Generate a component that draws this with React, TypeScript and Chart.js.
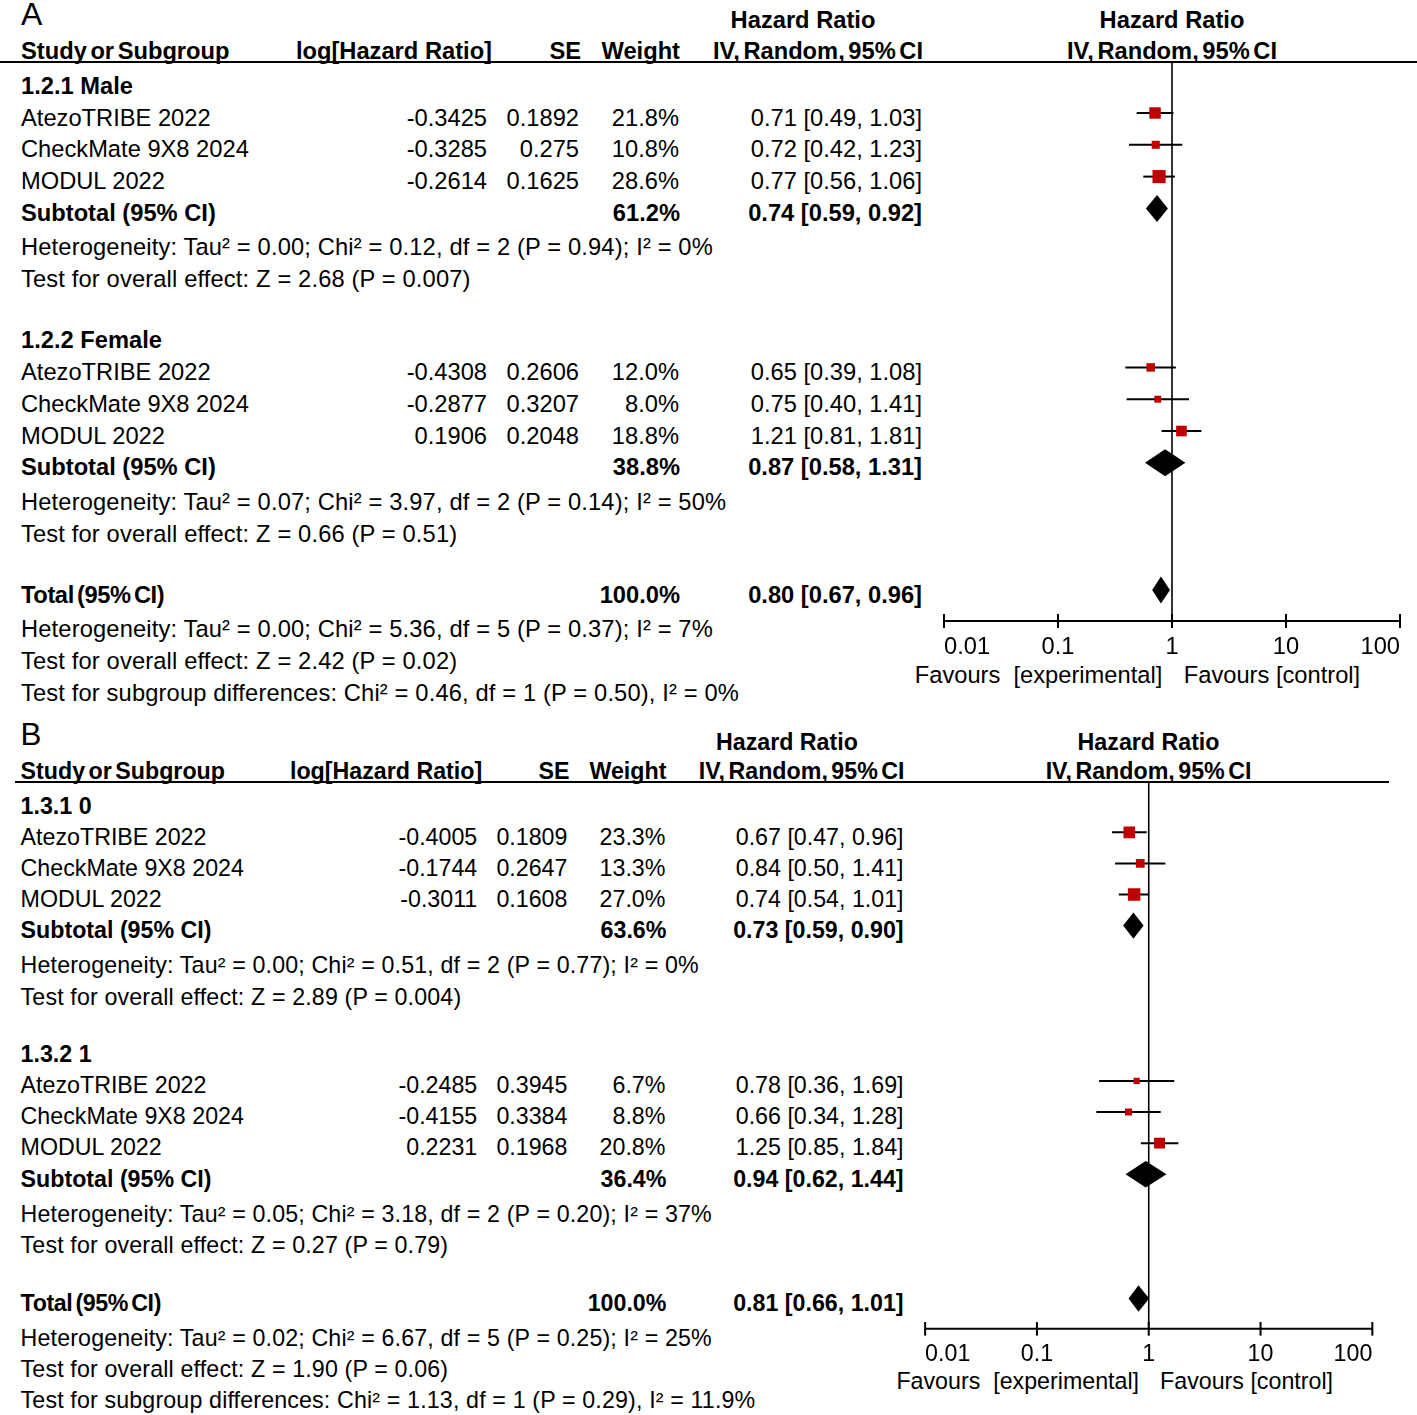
import React, { useEffect, useRef } from "react";
import { Chart, registerables } from "chart.js";

Chart.register(...registerables);

// ---------- shared ----------
const studyNames = ["AtezoTRIBE 2022", "CheckMate 9X8 2024", "MODUL 2022"];
const tickValues = [0.01, 0.1, 1, 10, 100];
const tickLabels = ["0.01", "0.1", "1", "10", "100"];

// ---------- Panel A ----------
const aGroupLabels = ["1.2.1 Male", "1.2.2 Female"];
const aLogHR = [[-0.3425, -0.3285, -0.2614], [-0.4308, -0.2877, 0.1906]];
const aSE = [[0.1892, 0.275, 0.1625], [0.2606, 0.3207, 0.2048]];
const aWeight = [[21.8, 10.8, 28.6], [12.0, 8.0, 18.8]];
const aHR = [[0.71, 0.72, 0.77], [0.65, 0.75, 1.21]];
const aLower = [[0.49, 0.42, 0.56], [0.39, 0.40, 0.81]];
const aUpper = [[1.03, 1.23, 1.06], [1.08, 1.41, 1.81]];
const aSubWeight = [61.2, 38.8];
const aSubHR = [0.74, 0.87];
const aSubLower = [0.59, 0.58];
const aSubUpper = [0.92, 1.31];
const aSubHet = [
  "Heterogeneity: Tau² = 0.00; Chi² = 0.12, df = 2 (P = 0.94); I² = 0%",
  "Heterogeneity: Tau² = 0.07; Chi² = 3.97, df = 2 (P = 0.14); I² = 50%",
];
const aSubTest = [
  "Test for overall effect: Z = 2.68 (P = 0.007)",
  "Test for overall effect: Z = 0.66 (P = 0.51)",
];
const aTotalWeight = 100.0;
const aTotalHR = 0.80;
const aTotalLower = 0.67;
const aTotalUpper = 0.96;
const aTotalNotes = [
  "Heterogeneity: Tau² = 0.00; Chi² = 5.36, df = 5 (P = 0.37); I² = 7%",
  "Test for overall effect: Z = 2.42 (P = 0.02)",
  "Test for subgroup differences: Chi² = 0.46, df = 1 (P = 0.50), I² = 0%",
];

// ---------- Panel B ----------
const bGroupLabels = ["1.3.1 0", "1.3.2 1"];
const bLogHR = [[-0.4005, -0.1744, -0.3011], [-0.2485, -0.4155, 0.2231]];
const bSE = [[0.1809, 0.2647, 0.1608], [0.3945, 0.3384, 0.1968]];
const bWeight = [[23.3, 13.3, 27.0], [6.7, 8.8, 20.8]];
const bHR = [[0.67, 0.84, 0.74], [0.78, 0.66, 1.25]];
const bLower = [[0.47, 0.50, 0.54], [0.36, 0.34, 0.85]];
const bUpper = [[0.96, 1.41, 1.01], [1.69, 1.28, 1.84]];
const bSubWeight = [63.6, 36.4];
const bSubHR = [0.73, 0.94];
const bSubLower = [0.59, 0.62];
const bSubUpper = [0.90, 1.44];
const bSubHet = [
  "Heterogeneity: Tau² = 0.00; Chi² = 0.51, df = 2 (P = 0.77); I² = 0%",
  "Heterogeneity: Tau² = 0.05; Chi² = 3.18, df = 2 (P = 0.20); I² = 37%",
];
const bSubTest = [
  "Test for overall effect: Z = 2.89 (P = 0.004)",
  "Test for overall effect: Z = 0.27 (P = 0.79)",
];
const bTotalWeight = 100.0;
const bTotalHR = 0.81;
const bTotalLower = 0.66;
const bTotalUpper = 1.01;
const bTotalNotes = [
  "Heterogeneity: Tau² = 0.02; Chi² = 6.67, df = 5 (P = 0.25); I² = 25%",
  "Test for overall effect: Z = 1.90 (P = 0.06)",
  "Test for subgroup differences: Chi² = 1.13, df = 1 (P = 0.29), I² = 11.9%",
];

const FONT = "'Liberation Sans', Arial, Helvetica, sans-serif";
const PAGE_W = 1417;

type PanelProps = {
  letter: string;
  groupLabels: string[];
  logHR: number[][];
  se: number[][];
  weight: number[][];
  hr: number[][];
  lower: number[][];
  upper: number[][];
  subWeight: number[];
  subHR: number[];
  subLower: number[];
  subUpper: number[];
  subHet: string[];
  subTest: string[];
  totalWeight: number;
  totalHR: number;
  totalLower: number;
  totalUpper: number;
  totalNotes: string[];
  sx: number;
  sy: number;
  oy: number;
  lineStart: number;
  statOff: number;
};

type TProps = {
  x: number;
  y: number;
  fs: number;
  text: string;
  align?: "left" | "right" | "center";
  bold?: boolean;
  style?: React.CSSProperties;
};

function T({ x, y, fs, text, align = "left", bold = false, style = {} }: TProps) {
  const s: React.CSSProperties = {
    position: "absolute",
    top: y - fs / 2,
    fontSize: fs,
    lineHeight: `${fs}px`,
    whiteSpace: "pre",
    fontWeight: bold ? 700 : 400,
    color: "#000",
    ...style,
  };
  if (align === "left") s.left = x;
  else if (align === "right") s.right = PAGE_W - x;
  else {
    s.left = x;
    s.transform = "translateX(-50%)";
  }
  return <div style={s}>{text}</div>;
}

const fmtW = (w: number) => `${w.toFixed(1)}%`;
const fmtCI = (h: number, l: number, u: number) =>
  `${h.toFixed(2)} [${l.toFixed(2)}, ${u.toFixed(2)}]`;

function Panel(p: PanelProps) {
  const canvasRef = useRef<HTMLCanvasElement>(null);
  const { sx, sy, oy } = p;
  const X = (v: number) => v * sx;
  const Y = (v: number) => v * sy + oy;
  const fs = 23.7 * sx;
  // base (panel A) geometry
  const row0 = 81.2;
  const rowH = 31.8;
  const rowPix = (r: number) => row0 + rowH * r;
  const textY = (r: number, stat = false) => Y(rowPix(r) + 5.5 + (stat ? p.statOff : 0));
  const plotTop = 62;
  const plotBottom = 621;

  useEffect(() => {
    const canvas = canvasRef.current!;
    const studyPts: { x: number; y: number; w: number }[] = [];
    const whiskers: { lo: number; hi: number; r: number }[] = [];
    const diamonds: { est: number; lo: number; hi: number; r: number }[] = [];
    p.hr.forEach((g, gi) =>
      g.forEach((v, i) => {
        const r = gi * 8 + 1 + i;
        studyPts.push({ x: v, y: r, w: p.weight[gi][i] });
        whiskers.push({ lo: p.lower[gi][i], hi: p.upper[gi][i], r });
      })
    );
    p.subHR.forEach((v, gi) =>
      diamonds.push({ est: v, lo: p.subLower[gi], hi: p.subUpper[gi], r: gi * 8 + 4 })
    );
    diamonds.push({ est: p.totalHR, lo: p.totalLower, hi: p.totalUpper, r: 16 });

    const forest = {
      id: "forest",
      beforeDatasetsDraw(chart: any) {
        const { ctx, chartArea: ca, scales } = chart;
        const xs = scales.x;
        const ys = scales.y;
        ctx.save();
        ctx.strokeStyle = "#000";
        ctx.fillStyle = "#000";
        // line of no effect
        const x1 = xs.getPixelForValue(1);
        ctx.lineWidth = 1.6;
        ctx.beginPath();
        ctx.moveTo(x1, ca.top);
        ctx.lineTo(x1, ca.bottom);
        ctx.stroke();
        // axis + ticks
        ctx.lineWidth = 2;
        ctx.beginPath();
        ctx.moveTo(xs.getPixelForValue(tickValues[0]), ca.bottom);
        ctx.lineTo(xs.getPixelForValue(tickValues[tickValues.length - 1]), ca.bottom);
        ctx.stroke();
        tickValues.forEach((t) => {
          const px = xs.getPixelForValue(t);
          ctx.beginPath();
          ctx.moveTo(px, ca.bottom - 7 * sy);
          ctx.lineTo(px, ca.bottom + 7 * sy);
          ctx.stroke();
        });
        // whiskers
        ctx.lineWidth = 2;
        whiskers.forEach((w) => {
          const py = ys.getPixelForValue(w.r);
          ctx.beginPath();
          ctx.moveTo(xs.getPixelForValue(w.lo), py);
          ctx.lineTo(xs.getPixelForValue(w.hi), py);
          ctx.stroke();
        });
        // diamonds
        const hh = 13.5 * sy;
        diamonds.forEach((d) => {
          const py = ys.getPixelForValue(d.r);
          const pe = xs.getPixelForValue(d.est);
          ctx.beginPath();
          ctx.moveTo(xs.getPixelForValue(d.lo), py);
          ctx.lineTo(pe, py - hh);
          ctx.lineTo(xs.getPixelForValue(d.hi), py);
          ctx.lineTo(pe, py + hh);
          ctx.closePath();
          ctx.fill();
        });
        ctx.restore();
      },
    };

    const chart = new Chart(canvas, {
      type: "scatter",
      data: {
        datasets: [
          {
            data: studyPts as any,
            pointStyle: "rect",
            backgroundColor: "#c00000",
            borderWidth: 0,
            pointRadius: (c: any) => {
              const raw = c.raw as { w: number } | undefined;
              const side = raw ? 2.45 * Math.sqrt(raw.w) * sx : 6;
              return side / (2 * Math.SQRT1_2);
            },
          },
        ],
      },
      options: {
        responsive: false,
        animation: false,
        events: [],
        layout: {
          padding: {
            left: X(944) - X(900),
            right: X(1417) - X(1400),
            top: Y(plotTop) - Y(40),
            bottom: Y(700) - Y(plotBottom) - 70 * sy,
          },
        },
        plugins: { legend: { display: false }, tooltip: { enabled: false } },
        scales: {
          x: {
            type: "logarithmic",
            min: 0.01,
            max: 100,
            position: "bottom",
            grid: { display: false, drawTicks: false },
            border: { display: false },
            afterBuildTicks: (s: any) => {
              s.ticks = tickValues.map((v) => ({ value: v }));
            },
            afterFit: (s: any) => {
              s.height = 70 * sy;
              s.paddingLeft = 0;
              s.paddingRight = 0;
            },
            ticks: {
              align: "inner",
              padding: 12.5 * sy,
              color: "#000",
              autoSkip: false,
              maxRotation: 0,
              minRotation: 0,
              font: { family: FONT, size: fs },
              callback: (_v: any, i: number) => tickLabels[i],
            },
          } as any,
          y: {
            type: "linear",
            min: (plotTop - row0) / rowH,
            max: (plotBottom - row0) / rowH,
            reverse: true,
            display: false,
          },
        },
      },
      plugins: [forest as any],
    });
    return () => chart.destroy();
  }, []);

  const items: React.ReactNode[] = [];
  let k = 0;
  const add = (props: TProps) => items.push(<T key={k++} {...props} />);

  // panel letter
  items.push(
    <div
      key={k++}
      style={{
        position: "absolute",
        left: X(21),
        top: Y(-2.5),
        fontSize: 32 * sx,
        lineHeight: `${32 * sx}px`,
        fontFamily: FONT,
        color: "#000",
      }}
    >
      {p.letter}
    </div>
  );

  // headers
  const h1 = Y(21);
  const h2 = Y(51.5);
  const tight: React.CSSProperties = { wordSpacing: -3 * sx };
  const statStyle: React.CSSProperties = { letterSpacing: 0.15 * sx };
  add({ x: X(803), y: h1, fs, text: "Hazard Ratio", align: "center", bold: true });
  add({ x: X(1172), y: h1, fs, text: "Hazard Ratio", align: "center", bold: true });
  add({ x: X(21), y: h2, fs, text: "Study or Subgroup", bold: true, style: tight });
  add({ x: X(492), y: h2, fs, text: "log[Hazard Ratio]", align: "right", bold: true });
  add({ x: X(581), y: h2, fs, text: "SE", align: "right", bold: true });
  add({ x: X(680), y: h2, fs, text: "Weight", align: "right", bold: true });
  add({ x: X(923), y: h2, fs, text: "IV, Random, 95% CI", align: "right", bold: true, style: tight });
  add({ x: X(1172), y: h2, fs, text: "IV, Random, 95% CI", align: "center", bold: true, style: tight });

  p.groupLabels.forEach((label, gi) => {
    const base = gi * 8;
    add({ x: X(21), y: textY(base), fs, text: label, bold: true });
    studyNames.forEach((name, i) => {
      const r = base + 1 + i;
      const y = textY(r);
      add({ x: X(21), y, fs, text: name });
      add({ x: X(487), y, fs, text: String(p.logHR[gi][i]), align: "right" });
      add({ x: X(579), y, fs, text: String(p.se[gi][i]), align: "right" });
      add({ x: X(679), y, fs, text: fmtW(p.weight[gi][i]), align: "right" });
      add({ x: X(922), y, fs, text: fmtCI(p.hr[gi][i], p.lower[gi][i], p.upper[gi][i]), align: "right" });
    });
    const ys = textY(base + 4);
    add({ x: X(21), y: ys, fs, text: "Subtotal (95% CI)", bold: true });
    add({ x: X(680), y: ys, fs, text: fmtW(p.subWeight[gi]), align: "right", bold: true });
    add({ x: X(922), y: ys, fs, text: fmtCI(p.subHR[gi], p.subLower[gi], p.subUpper[gi]), align: "right", bold: true });
    add({ x: X(21), y: textY(base + 5, true), fs, text: p.subHet[gi], style: statStyle });
    add({ x: X(21), y: textY(base + 6, true), fs, text: p.subTest[gi], style: statStyle });
  });

  const yt = textY(16);
  add({ x: X(21), y: yt, fs, text: "Total (95% CI)", bold: true, style: { letterSpacing: -0.4 * sx, wordSpacing: -3 * sx } });
  add({ x: X(680), y: yt, fs, text: fmtW(p.totalWeight), align: "right", bold: true });
  add({ x: X(922), y: yt, fs, text: fmtCI(p.totalHR, p.totalLower, p.totalUpper), align: "right", bold: true });
  p.totalNotes.forEach((note, i) =>
    add({ x: X(21), y: textY(17 + i, true), fs, text: note, style: statStyle })
  );

  // favours labels
  add({ x: X(1038.5), y: Y(675.5), fs, text: "Favours  [experimental]", align: "center" });
  add({ x: X(1272), y: Y(675.5), fs, text: "Favours [control]", align: "center" });

  // header rule
  items.push(
    <div
      key={k++}
      style={{
        position: "absolute",
        left: p.lineStart,
        top: Y(62) - 1,
        width: X(1417) - p.lineStart,
        height: 2,
        background: "#000",
      }}
    />
  );

  const cLeft = X(900);
  const cTop = Y(40);
  const cW = Math.round(X(1417) - X(900));
  const cH = Math.round(Y(700) - Y(40));

  return (
    <>
      {items}
      <canvas
        ref={canvasRef}
        width={cW}
        height={cH}
        style={{ position: "absolute", left: cLeft, top: cTop, width: cW, height: cH }}
      />
    </>
  );
}

export default function App() {
  return (
    <div
      style={{
        position: "absolute",
        left: 0,
        top: 0,
        width: PAGE_W,
        height: 1415,
        background: "#fff",
        overflow: "hidden",
        fontFamily: FONT,
      }}
    >
      <Panel
        letter="A"
        groupLabels={aGroupLabels}
        logHR={aLogHR}
        se={aSE}
        weight={aWeight}
        hr={aHR}
        lower={aLower}
        upper={aUpper}
        subWeight={aSubWeight}
        subHR={aSubHR}
        subLower={aSubLower}
        subUpper={aSubUpper}
        subHet={aSubHet}
        subTest={aSubTest}
        totalWeight={aTotalWeight}
        totalHR={aTotalHR}
        totalLower={aTotalLower}
        totalUpper={aTotalUpper}
        totalNotes={aTotalNotes}
        sx={1}
        sy={1}
        oy={0}
        lineStart={0}
        statOff={2.5}
      />
      <Panel
        letter="B"
        groupLabels={bGroupLabels}
        logHR={bLogHR}
        se={bSE}
        weight={bWeight}
        hr={bHR}
        lower={bLower}
        upper={bUpper}
        subWeight={bSubWeight}
        subHR={bSubHR}
        subLower={bSubLower}
        subUpper={bSubUpper}
        subHet={bSubHet}
        subTest={bSubTest}
        totalWeight={bTotalWeight}
        totalHR={bTotalHR}
        totalLower={bTotalLower}
        totalUpper={bTotalUpper}
        totalNotes={bTotalNotes}
        sx={0.98}
        sy={0.977}
        oy={721.6}
        lineStart={15}
        statOff={4.5}
      />
    </div>
  );
}
